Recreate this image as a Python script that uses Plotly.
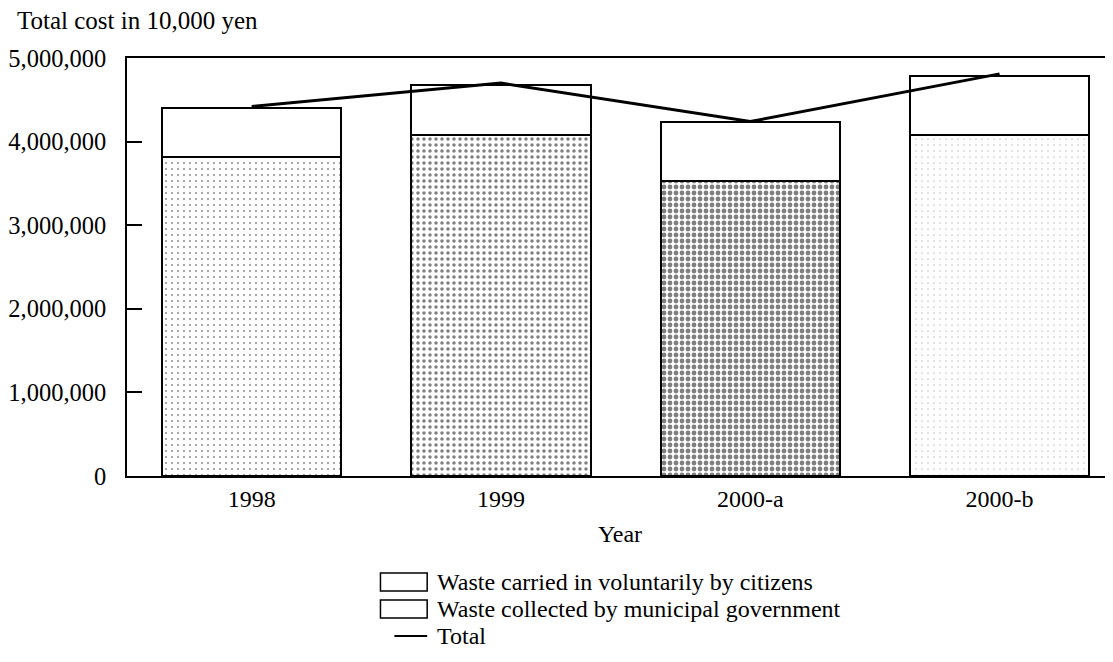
import plotly.graph_objects as go

# values (in 10,000 yen)
years = ['1998', '1999', '2000-a', '2000-b']
municipal = [3820000, 4080000, 3530000, 4080000]
citizens = [585000, 600000, 700000, 700000]
total = [4420000, 4700000, 4240000, 4810000]
texture = [0.07, 0.27, 0.5, 0.03]

legend_labels = [
    'Waste carried in voluntarily by citizens',
    'Waste collected by municipal government',
    'Total',
]

# the page body has an 8px margin, so the figure sits 8px in from the corner
PAGE = 8
W, H = 1113 - PAGE, 662 - PAGE
L, R, T, B = 121 - PAGE, 0, 58 - PAGE, 662 - 476
FONT = 'Liberation Serif, Times New Roman, serif'


def px_x(px):
    # screenshot pixel -> paper x
    return (px - PAGE - L) / (W - L - R)


def px_y(py):
    # screenshot pixel -> paper y
    return (H - B - (py - PAGE)) / (H - T - B)


fig = go.Figure()
fig.add_trace(
    go.Bar(
        x=years,
        y=municipal,
        name=legend_labels[1],
        width=0.72,
        marker=dict(
            color='white',
            line=dict(color='black', width=2),
            pattern=dict(shape='.', fgcolor='black', bgcolor='white',
                         size=6, solidity=texture),
        ),
    )
)
fig.add_trace(
    go.Bar(
        x=years,
        y=citizens,
        name=legend_labels[0],
        width=0.72,
        marker=dict(color='white', line=dict(color='black', width=2)),
    )
)
fig.add_trace(
    go.Scatter(
        x=years,
        y=total,
        mode='lines',
        name=legend_labels[2],
        line=dict(color='black', width=3),
    )
)

# hand-drawn legend below the axis, like the original
rows = [582, 609, 636]
for i, label in enumerate(legend_labels):
    if i < 2:
        fig.add_shape(
            type='rect', xref='paper', yref='paper',
            x0=px_x(376), x1=px_x(423),
            y0=px_y(rows[i] + 9), y1=px_y(rows[i] - 9),
            line=dict(color='black', width=1.5), fillcolor='white',
        )
    else:
        fig.add_shape(
            type='line', xref='paper', yref='paper',
            x0=px_x(390), x1=px_x(423),
            y0=px_y(rows[i]), y1=px_y(rows[i]),
            line=dict(color='black', width=2),
        )
    fig.add_annotation(
        text=label, xref='paper', yref='paper',
        x=px_x(431), y=px_y(rows[i]), xanchor='left', yanchor='middle',
        showarrow=False, font=dict(size=24),
    )

fig.add_annotation(
    text='Total cost in 10,000 yen', xref='paper', yref='paper',
    x=px_x(8), y=px_y(21), xanchor='left', yanchor='middle',
    showarrow=False, font=dict(size=25),
)

fig.update_layout(
    width=W,
    height=H,
    margin=dict(l=L, r=R, t=T, b=B),
    barmode='stack',
    showlegend=False,
    plot_bgcolor='white',
    paper_bgcolor='white',
    font=dict(family=FONT, size=24, color='black'),
    xaxis=dict(
        type='category',
        range=[-0.5, 3.455],
        showline=True,
        mirror=True,
        linecolor='black',
        linewidth=1.5,
        ticks='',
        showgrid=False,
        zeroline=False,
        tickfont=dict(size=24),
        ticklabelstandoff=0,
        title=dict(text='Year', standoff=15, font=dict(size=24)),
    ),
    yaxis=dict(
        range=[0, 5000000],
        dtick=1000000,
        tickformat=',',
        showline=True,
        linecolor='black',
        linewidth=1.5,
        ticks='inside',
        ticklen=15,
        tickcolor='black',
        tickwidth=1.5,
        showgrid=False,
        zeroline=False,
        tickfont=dict(size=24.5),
        ticklabelstandoff=14,
    ),
)

fig.write_html('out.html')
